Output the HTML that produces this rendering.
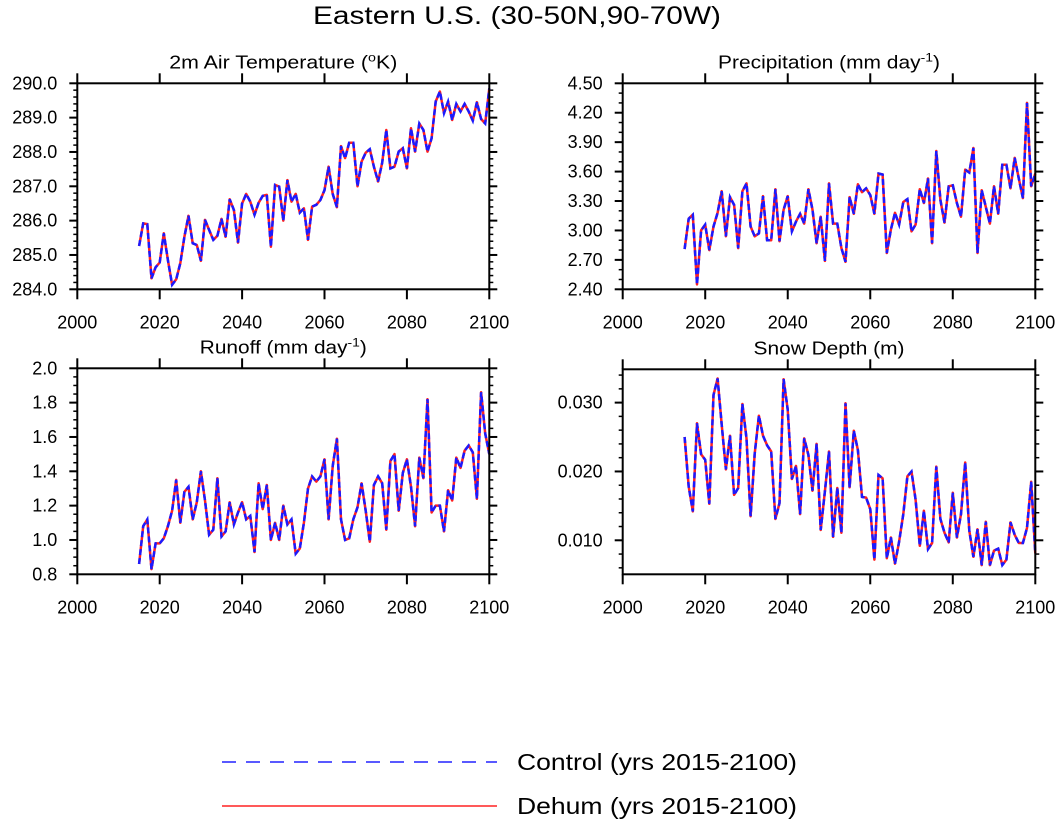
<!DOCTYPE html>
<html><head><meta charset="utf-8"><style>
html,body{margin:0;padding:0;background:#fff;}
svg{display:block;font-family:"Liberation Sans",Arial,sans-serif;}
</style></head><body>
<svg id="fig" width="1057" height="823" viewBox="0 0 1057 823" xmlns="http://www.w3.org/2000/svg">
<text x="313" y="24" font-size="25" textLength="408" lengthAdjust="spacingAndGlyphs">Eastern U.S. (30-50N,90-70W)</text>
<g id="panels"></g>
<g>
<line x1="222" y1="762" x2="497" y2="762" stroke="#2222ff" stroke-width="1.5" stroke-dasharray="14,10"/>
<text x="517" y="770" font-size="23" textLength="280" lengthAdjust="spacingAndGlyphs">Control (yrs 2015-2100)</text>
<line x1="222" y1="806" x2="497" y2="806" stroke="#ff2222" stroke-width="1.5"/>
<text x="517" y="814" font-size="23" textLength="280" lengthAdjust="spacingAndGlyphs">Dehum (yrs 2015-2100)</text>
</g>
</svg>
<script>
const years = [];
for (let y = 2015; y <= 2100; y++) years.push(y);
const xTicks = [2000, 2020, 2040, 2060, 2080, 2100];
const tempValues = [285.26,285.92,285.9,284.32,284.64,284.78,285.63,284.85,284.13,284.29,284.76,285.53,286.14,285.34,285.29,284.83,286.02,285.73,285.44,285.56,286.05,285.53,286.62,286.31,285.36,286.5,286.78,286.55,286.17,286.52,286.72,286.75,285.24,287.04,286.99,286.0,287.18,286.55,286.78,286.23,286.36,285.44,286.41,286.46,286.6,286.89,287.57,286.78,286.39,288.17,287.82,288.27,288.27,287.0,287.72,287.98,288.08,287.57,287.14,287.69,288.64,287.52,287.57,288.01,288.11,287.52,288.69,288.01,288.83,288.64,288.01,288.4,289.47,289.76,289.13,289.47,288.93,289.4,289.18,289.4,289.18,288.91,289.45,288.96,288.83,289.85];
const tempTicks = ["284.0","285.0","286.0","287.0","288.0","289.0","290.0"];
const precipValues = [2.81,3.12,3.16,2.45,3.0,3.06,2.80,3.04,3.18,3.40,2.94,3.34,3.26,2.82,3.40,3.48,3.04,2.94,2.97,3.35,2.90,2.90,3.42,2.89,3.21,3.35,2.99,3.09,3.17,3.07,3.42,3.21,2.87,3.14,2.69,3.48,3.07,3.07,2.82,2.68,3.34,3.17,3.47,3.39,3.43,3.36,3.17,3.58,3.57,2.77,3.01,3.18,3.06,3.29,3.32,2.99,3.06,3.42,3.28,3.53,2.87,3.81,3.31,3.08,3.45,3.46,3.28,3.14,3.62,3.59,3.84,2.77,3.41,3.24,3.07,3.45,3.17,3.67,3.67,3.43,3.74,3.53,3.33,4.30,3.45,3.58];
const precipTicks = ["2.40","2.70","3.00","3.30","3.60","3.90","4.20","4.50"];
const runoffValues = [0.86,1.08,1.12,0.83,0.98,0.98,1.01,1.08,1.17,1.35,1.10,1.28,1.31,1.12,1.22,1.40,1.23,1.03,1.06,1.36,1.02,1.05,1.22,1.09,1.16,1.22,1.12,1.14,0.93,1.33,1.18,1.32,1.0,1.10,1.00,1.20,1.09,1.12,0.92,0.95,1.10,1.30,1.37,1.34,1.37,1.47,1.12,1.43,1.59,1.12,1.0,1.01,1.12,1.19,1.33,1.17,0.99,1.32,1.37,1.33,1.06,1.46,1.50,1.17,1.39,1.47,1.31,1.08,1.48,1.36,1.82,1.16,1.20,1.20,1.05,1.29,1.23,1.48,1.42,1.52,1.55,1.51,1.24,1.86,1.62,1.50];
const runoffTicks = ["0.8","1.0","1.2","1.4","1.6","1.8","2.0"];
const snowValues = [0.0250,0.0178,0.0142,0.0270,0.0225,0.0217,0.0153,0.0311,0.0335,0.0268,0.0203,0.0252,0.0166,0.0176,0.0298,0.0248,0.0135,0.0226,0.0281,0.0252,0.0238,0.0229,0.0131,0.0154,0.0334,0.0290,0.0189,0.0208,0.0138,0.0248,0.0224,0.0172,0.0240,0.0115,0.0171,0.0229,0.0105,0.0176,0.0111,0.0299,0.0177,0.0259,0.0231,0.0163,0.0162,0.0145,0.0072,0.0195,0.0190,0.0074,0.0104,0.0066,0.0098,0.0138,0.0193,0.0200,0.0159,0.0092,0.0143,0.0087,0.0096,0.0207,0.0131,0.0111,0.0097,0.0169,0.0104,0.0138,0.0213,0.0114,0.0076,0.0116,0.0064,0.0127,0.0064,0.0085,0.0088,0.0064,0.0072,0.0126,0.0108,0.0096,0.0096,0.0118,0.0185,0.0081];
const snowTicks = ["0.010","0.020","0.030"];

const NS = "http://www.w3.org/2000/svg";
const root = document.getElementById('panels');
function mk(tag, attrs, parent) {
  const e = document.createElementNS(NS, tag);
  for (const k in attrs) e.setAttribute(k, attrs[k]);
  parent.appendChild(e);
  return e;
}
const panels = [
  {name:'temperature', title:['2m Air Temperature (','o','K)'], tl:228, x0:77.3, x1:489.3, y0:83.3, y1:289.3, ymin:284, ymax:290, vals:tempValues, ticks:tempTicks, minor:0.2},
  {name:'precipitation', title:['Precipitation (mm day','-1',')'], tl:222, x0:622.7, x1:1035.3, y0:83.3, y1:289.3, ymin:2.4, ymax:4.5, vals:precipValues, ticks:precipTicks, minor:0.1},
  {name:'runoff', title:['Runoff (mm day','-1',')'], tl:167, x0:77.3, x1:489.3, y0:368.3, y1:574.3, ymin:0.8, ymax:2.0, vals:runoffValues, ticks:runoffTicks, minor:0.05},
  {name:'snow-depth', title:['Snow Depth (m)','',''], tl:151, x0:622.7, x1:1035.3, y0:369.3, y1:574.3, ymin:0.00506, ymax:0.03484, vals:snowValues, ticks:snowTicks, minor:0.002}
];
panels.forEach(p => {
  const g = mk('g', {}, root);
  
  
  const sx = v => p.x0 + (v - 2000) / 100 * (p.x1 - p.x0);
  const sy = v => p.y1 - (v - p.ymin) / (p.ymax - p.ymin) * (p.y1 - p.y0);
  const cx = (p.x0 + p.x1) / 2;
  const t = mk('text', {x:cx - p.tl / 2, y:p.y0 - 15, 'font-size':18}, g);
  
  
  const a = mk('tspan', {}, t); a.textContent = p.title[0];
  if (p.title[1]) { const s = mk('tspan', {'font-size':12, dy:-7}, t); s.textContent = p.title[1]; const s2 = mk('tspan', {'font-size':18, dy:7}, t); s2.textContent = p.title[2]; }
  t.setAttribute('textLength', p.tl);
  t.setAttribute('lengthAdjust', 'spacingAndGlyphs');
  const first = Math.ceil(p.ymin / p.minor - 1e-6);
  for (let k = first; k * p.minor <= p.ymax + 1e-9; k++) {
    const y = sy(k * p.minor);
    mk('line', {x1:p.x0 - 4, x2:p.x0, y1:y, y2:y, stroke:'#000', 'stroke-width':1.5}, g);
    mk('line', {x1:p.x1, x2:p.x1 + 4, y1:y, y2:y, stroke:'#000', 'stroke-width':1.5}, g);
  }
  p.ticks.forEach(lbl => {
    const y = sy(parseFloat(lbl));
    mk('line', {x1:p.x0 - 8, x2:p.x0, y1:y, y2:y, stroke:'#000', 'stroke-width':2}, g);
    mk('line', {x1:p.x1, x2:p.x1 + 8, y1:y, y2:y, stroke:'#000', 'stroke-width':2}, g);
    const tl = mk('text', {x:p.x0 - 20, y:y + 6, 'font-size':18, 'text-anchor':'end'}, g);
    
    
    tl.textContent = lbl;
  });
  xTicks.forEach(v => {
    const x = sx(v);
    mk('line', {x1:x, x2:x, y1:p.y1, y2:p.y1 + 10, stroke:'#000', 'stroke-width':2}, g);
    mk('line', {x1:x, x2:x, y1:p.y0 - 10, y2:p.y0, stroke:'#000', 'stroke-width':2}, g);
    const tl = mk('text', {x:x, y:p.y1 + 39, 'font-size':18, 'text-anchor':'middle'}, g);
    
    
    tl.textContent = v;
  });
  const pts = p.vals.map((v, i) => sx(years[i]).toFixed(1) + ',' + sy(v).toFixed(1)).join(' ');
  const red = mk('polyline', {points:pts, fill:'none', stroke:'#ff2020', 'stroke-width':2.5, 'stroke-linejoin':'round'}, g);
  
  
  const blue = mk('polyline', {points:pts, fill:'none', stroke:'#1a1aff', 'stroke-width':2.5, 'stroke-dasharray':'6,3'}, g);
  
  
  const frame = mk('rect', {x:p.x0, y:p.y0, width:p.x1 - p.x0, height:p.y1 - p.y0, fill:'none', stroke:'#000', 'stroke-width':2}, g);
  
  
});
</script>
</body></html>
